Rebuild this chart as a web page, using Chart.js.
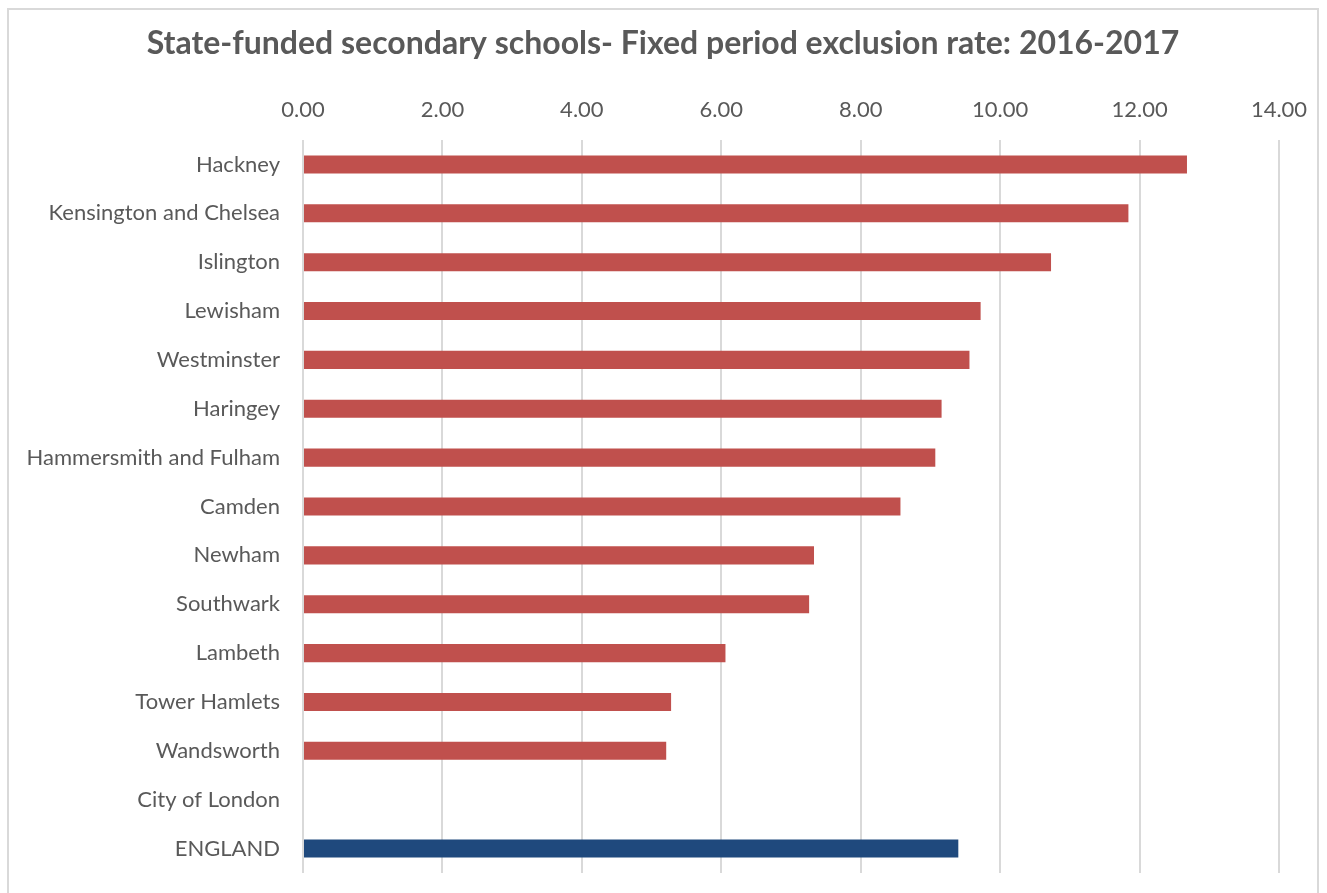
<!DOCTYPE html>
<html>
<head>
<meta charset="utf-8">
<script src="https://cdn.jsdelivr.net/npm/chart.js@4"></script>
<style>
  html, body { margin: 0; padding: 0; background: #ffffff; overflow: hidden; }
  #wrap { position: relative; width: 1327px; height: 893px; }
</style>
</head>
<body>
<div id="wrap"><canvas id="chart"></canvas></div>
<script>
// Boroughs, top to bottom
const boroughs = [
  'Hackney', 'Kensington and Chelsea', 'Islington', 'Lewisham', 'Westminster',
  'Haringey', 'Hammersmith and Fulham', 'Camden', 'Newham', 'Southwark',
  'Lambeth', 'Tower Hamlets', 'Wandsworth', 'City of London', 'ENGLAND'
];

// Fixed period exclusion rate (%), 2016-2017
const exclusionRate = [
  12.68, 11.84, 10.73, 9.72, 9.56,
  9.16, 9.07, 8.57, 7.33, 7.26,
  6.06, 5.28, 5.21, null, 9.40
];

const tickValues = [0, 2, 4, 6, 8, 10, 12, 14];

const chartTitle = 'State-funded secondary schools- Fixed period exclusion rate: 2016-2017';

const RED = '#C0504D';
const BLUE = '#1F497D';
const GREY_TEXT = '#595959';
const GRID = '#D9D9D9';

// Light frame around the whole chart, plus the title centred within it
const framePlugin = {
  id: 'frame',
  beforeDraw(chart) {
    const ctx = chart.ctx;
    ctx.save();
    ctx.strokeStyle = GRID;
    ctx.lineWidth = 2;
    ctx.strokeRect(8, 9, 1310, 900);
    ctx.fillStyle = GREY_TEXT;
    ctx.font = 'bold 32px Lato';
    ctx.textAlign = 'center';
    ctx.textBaseline = 'alphabetic';
    ctx.fillText(chartTitle, 663, 54);
    ctx.restore();
  }
};

new Chart(document.getElementById('chart'), {
  type: 'bar',
  data: {
    labels: boroughs,
    datasets: [{
      label: 'Fixed period exclusion rate',
      data: exclusionRate,
      backgroundColor: ctx => boroughs[ctx.dataIndex] === 'ENGLAND' ? BLUE : RED,
      borderWidth: 0,
      categoryPercentage: 1,
      barPercentage: 0.37
    }]
  },
  options: {
    indexAxis: 'y',
    responsive: true,
    maintainAspectRatio: false,
    animation: false,
    layout: { padding: { left: 0, right: 48, top: 70, bottom: 20 } },
    plugins: {
      legend: { display: false },
      tooltip: { enabled: false },
      title: { display: false }
    },
    scales: {
      x: {
        position: 'top',
        min: 0,
        max: 14,
        afterBuildTicks: scale => { scale.ticks = tickValues.map(v => ({ value: v })); },
        afterFit: scale => { scale.height = 70; },
        grid: { color: GRID, lineWidth: 2, drawTicks: false },
        border: { display: false },
        ticks: {
          color: GREY_TEXT,
          font: { family: 'Lato', size: 22 },
          padding: 17,
          maxRotation: 0,
          callback: v => Number(v).toFixed(2)
        }
      },
      y: {
        afterFit: scale => {
          scale.width = 303;
          scale.paddingTop = 0;
          scale.paddingBottom = 0;
        },
        grid: { display: false, drawTicks: false },
        border: { display: false },
        ticks: {
          color: GREY_TEXT,
          font: { family: 'Lato', size: 22 },
          padding: 23,
          autoSkip: false
        }
      }
    }
  },
  plugins: [framePlugin]
});
</script>
</body>
</html>
